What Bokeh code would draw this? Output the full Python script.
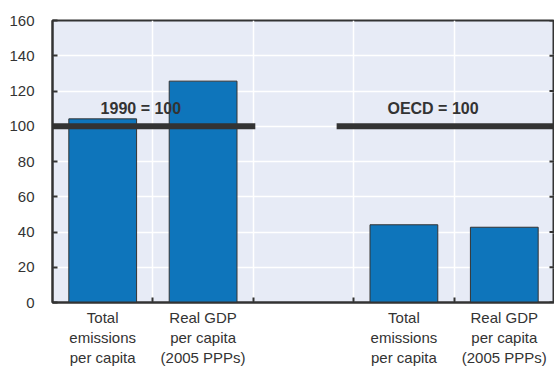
from math import pi
from bokeh.plotting import figure
from bokeh.models import FixedTicker, LinearAxis, Range1d, Label, ColumnDataSource, Grid
from bokeh.embed import file_html
from bokeh.resources import INLINE

# ---- data ----
categories = ["Total\nemissions\nper capita", "Real GDP\nper capita\n(2005 PPPs)", "",
              "Total\nemissions\nper capita", "Real GDP\nper capita\n(2005 PPPs)"]
values = [104.2, 125.6, None, 44.1, 42.7]
ref_labels = ["1990 = 100", "OECD = 100"]
ref_values = [100, 100]
ref_start = [0.0, 2.83]
ref_end = [2.02, 5.0]
ref_label_x = [0.88, 3.79]
ref_label_y = [110, 110]
y_ticks = [0, 20, 40, 60, 80, 100, 120, 140, 160]

FONT = "'Liberation Sans', Arial, sans-serif"
DARK = "#333333"
BLUE = "#0e75bb"
BG = "#e7ebf6"

n = len(categories)
centers = [i + 0.5 for i in range(n)]
bx = [c for c, v in zip(centers, values) if v is not None]
bv = [v for v in values if v is not None]
lab_x = [c for c, lab in zip(centers, categories) if lab]
lab_t = [lab for lab in categories if lab]

p = figure(width=554, height=369, output_backend="svg", toolbar_location=None,
           x_range=Range1d(0, n), y_range=Range1d(0, 160),
           min_border_left=52, min_border_right=0, min_border_top=20, min_border_bottom=67,
           x_axis_location=None, y_axis_location=None)
p.background_fill_color = BG
p.border_fill_color = "white"
p.outline_line_color = DARK
p.outline_line_width = 2

src = ColumnDataSource(dict(x=bx, top=bv))
p.vbar(x="x", top="top", width=0.675, bottom=0, source=src,
       fill_color=BLUE, line_color=DARK, line_width=1)

p.segment(x0=ref_start, x1=ref_end, y0=ref_values, y1=ref_values,
          line_color=DARK, line_width=6, line_cap="butt")

for t, lx, ly in zip(ref_labels, ref_label_x, ref_label_y):
    p.add_layout(Label(x=lx, y=ly, text=t, text_font=FONT, text_font_size="16px",
                       text_font_style="bold", text_color=DARK,
                       text_align="center", text_baseline="middle"))

# right-side inward ticks
p.ray(x=[n] * len(y_ticks), y=y_ticks, length=5, length_units="screen", angle=pi,
      line_color=DARK, line_width=2)

# left axis
yl = LinearAxis(ticker=FixedTicker(ticks=y_ticks))
yl.major_tick_in = 5
yl.major_tick_out = 0
yl.minor_tick_line_color = None
yl.major_tick_line_color = DARK
yl.major_tick_line_width = 2
yl.axis_line_color = DARK
yl.axis_line_width = 2
yl.major_label_text_font = FONT
yl.major_label_text_font_size = "15px"
yl.major_label_text_color = DARK
yl.major_label_standoff = 18
p.add_layout(yl, "left")

# bottom axis
xb = LinearAxis(ticker=FixedTicker(ticks=lab_x, minor_ticks=list(range(1, n))))
xb.major_label_overrides = {c: lab for c, lab in zip(lab_x, lab_t)}
xb.major_tick_in = 0
xb.major_tick_out = 0
xb.minor_tick_in = 5
xb.minor_tick_out = 0
xb.minor_tick_line_color = DARK
xb.minor_tick_line_width = 2
xb.axis_line_color = DARK
xb.axis_line_width = 2
xb.major_label_text_font = FONT
xb.major_label_text_font_size = "15px"
xb.major_label_text_color = DARK
xb.major_label_standoff = 6
p.add_layout(xb, "below")

p.xgrid.visible = False
p.ygrid.visible = False
p.add_layout(Grid(dimension=0, ticker=FixedTicker(ticks=list(range(1, n))),
                  grid_line_color="white", grid_line_width=1.5))
p.add_layout(Grid(dimension=1, ticker=FixedTicker(ticks=y_ticks),
                  grid_line_color="white", grid_line_width=1.5))

open("out.html", "w").write(file_html(p, INLINE))
